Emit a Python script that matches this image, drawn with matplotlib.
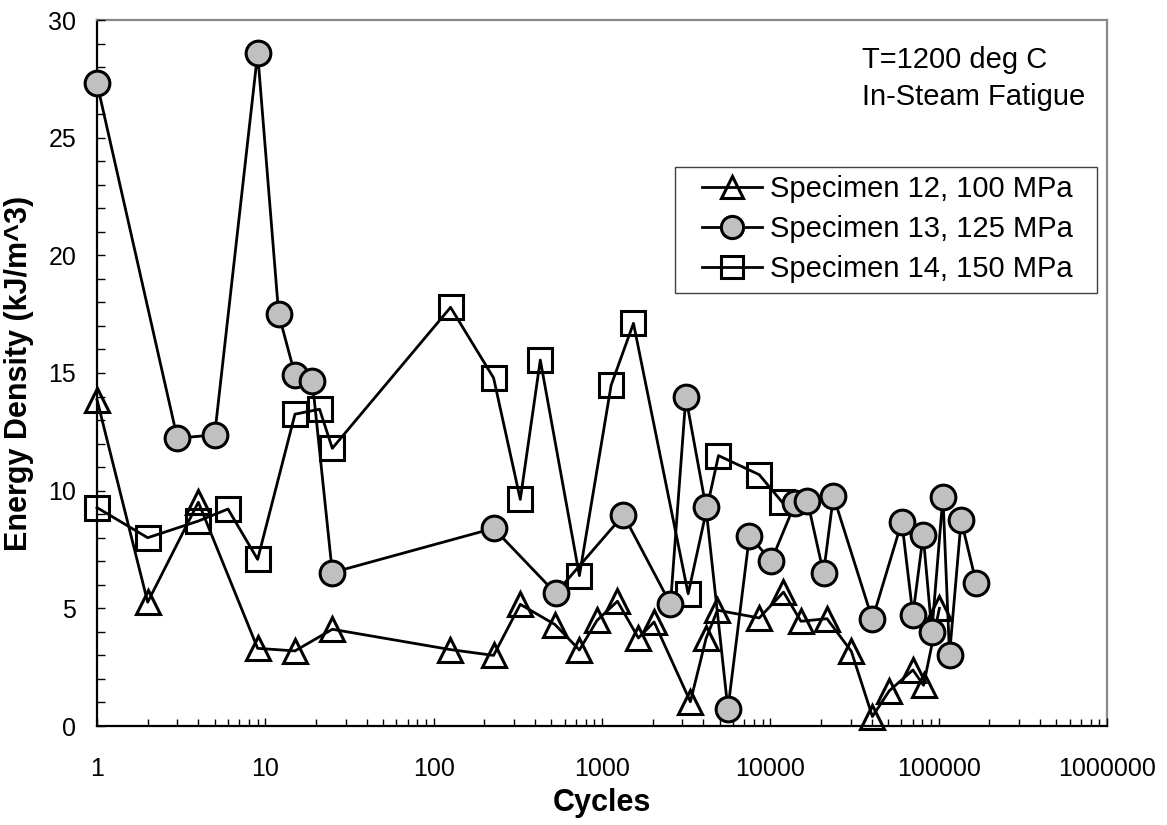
import matplotlib
matplotlib.use("Agg")
import matplotlib.pyplot as plt
from matplotlib.ticker import FixedLocator, NullFormatter
from matplotlib.patches import Rectangle

plt.rcParams['font.family'] = ['Liberation Sans', 'DejaVu Sans']

# ---- data ----
s12_x = [1, 2, 4, 9, 15, 25, 125, 227, 327, 526, 734, 935, 1235, 1645, 2040, 3350,
         4155, 4850, 8590, 11970, 15200, 21700, 30300, 40400, 50800, 70300, 81300, 101000]
s12_y = [13.87, 5.26, 9.51, 3.30, 3.19, 4.11, 3.25, 3.00, 5.17, 4.31, 3.23, 4.49, 5.30, 3.74,
         4.42, 1.03, 3.73, 4.92, 4.59, 5.69, 4.45, 4.56, 3.17, 0.40, 1.49, 2.38, 1.73, 5.00]

s13_x = [1, 3, 5, 9, 12, 15, 19, 25, 227, 531, 1341, 2552, 3148, 4140, 5597, 7516, 10116,
         14040, 16620, 20700, 23700, 40400, 60400, 70300, 80900, 91100, 106000, 116000,
         136000, 167000]
s13_y = [27.31, 12.23, 12.37, 28.59, 17.51, 14.92, 14.68, 6.52, 8.40, 5.64, 8.97, 5.18, 13.98,
         9.32, 0.72, 8.09, 7.01, 9.46, 9.56, 6.49, 9.77, 4.53, 8.68, 4.72, 8.10, 4.01, 9.75,
         3.02, 8.75, 6.09]

s14_x = [1, 2, 4, 6, 9, 15, 21, 25, 126, 227, 327, 430, 734, 1133, 1538, 3250, 4920, 8590, 11700]
s14_y = [9.28, 8.00, 8.71, 9.22, 7.08, 13.25, 13.46, 11.80, 17.79, 14.79, 9.63, 15.55, 6.39,
         14.48, 17.11, 5.62, 11.49, 10.68, 9.53]

series_labels = ["Specimen 12, 100 MPa", "Specimen 13, 125 MPa", "Specimen 14, 150 MPa"]
xtick_values = [1, 10, 100, 1000, 10000, 100000, 1000000]
xtick_labels = ["1", "10", "100", "1000", "10000", "100000", "1000000"]
ytick_values = [0, 5, 10, 15, 20, 25, 30]
ytick_labels = ["0", "5", "10", "15", "20", "25", "30"]
x_label = "Cycles"
y_label = "Energy Density (kJ/m^3)"
note_lines = ["T=1200 deg C", "In-Steam Fatigue"]

# ---- figure ----
W, H = 1167, 825
fig = plt.figure(figsize=(W / 100, H / 100), dpi=100)
ax = fig.add_axes([97 / W, 1 - 726 / H, (1107 - 97) / W, (726 - 20) / H])

ms = 17.8
lw = 2.0
mew = 2.2
ax.plot(s12_x, s12_y, color='black', lw=lw, marker='^', ms=ms, mfc='none', mec='black',
        mew=mew, label=series_labels[0], zorder=3, clip_on=False)
ax.plot(s13_x, s13_y, color='black', lw=lw, marker='o', ms=ms, mfc='#C0C0C0', mec='black',
        mew=mew, label=series_labels[1], zorder=5, clip_on=False)
ax.plot(s14_x, s14_y, color='black', lw=lw, marker='s', ms=ms - 0.6, mfc='none', mec='black',
        mew=mew, label=series_labels[2], zorder=4, clip_on=False)

ax.set_xscale('log')
ax.set_xlim(1, 1e6)
ax.set_ylim(0, 30)

ax.xaxis.set_major_locator(FixedLocator(xtick_values))
ax.set_xticklabels(xtick_labels)
minor_x = [m * 10 ** e for e in range(0, 6) for m in range(2, 10)]
ax.xaxis.set_minor_locator(FixedLocator(minor_x))
ax.xaxis.set_minor_formatter(NullFormatter())
ax.yaxis.set_major_locator(FixedLocator(ytick_values))
ax.set_yticklabels(ytick_labels)
ax.yaxis.set_minor_locator(FixedLocator(list(range(0, 31))))

ax.tick_params(axis='both', which='both', direction='in', top=False, right=False,
               color='black', width=1.0)
ax.tick_params(axis='x', which='major', length=6, pad=22, labelsize=18)
ax.tick_params(axis='x', which='minor', length=4.7)
ax.tick_params(axis='y', which='major', length=6, pad=15, labelsize=18)
ax.tick_params(axis='y', which='minor', length=5.5)

for side in ['left', 'bottom']:
    ax.spines[side].set_color('black')
    ax.spines[side].set_linewidth(1.6)
for side in ['top', 'right']:
    ax.spines[side].set_color('#888888')
    ax.spines[side].set_linewidth(1.6)
ax.set_axisbelow(False)

fig.text(602 / W, 1 - 803 / H, x_label, ha='center', va='center', fontsize=22, fontweight='bold')
fig.text(19 / W, 1 - 373 / H, y_label, ha='center', va='center', rotation=90, fontsize=22,
         fontweight='bold')

fig.text(862 / W, 1 - 68 / H, note_lines[0], ha='left', va='baseline', fontsize=21)
fig.text(862 / W, 1 - 105 / H, note_lines[1], ha='left', va='baseline', fontsize=21)

frame = Rectangle((675 / W, 1 - 293 / H), (1097 - 675) / W, (293 - 167) / H,
                  transform=fig.transFigure, fill=True, facecolor='white',
                  edgecolor='#404040', lw=1.0, zorder=8, clip_on=False)
ax.add_patch(frame)

leg = ax.legend(loc='center left', bbox_to_anchor=(702 / W, 1 - 229 / H),
                bbox_transform=fig.transFigure, frameon=False, fontsize=21,
                borderpad=0, borderaxespad=0, handlelength=2.06, handletextpad=0.27,
                labelspacing=0.42, markerscale=0.9)
leg.set_zorder(10)

fig.savefig('out.png', dpi=100)
